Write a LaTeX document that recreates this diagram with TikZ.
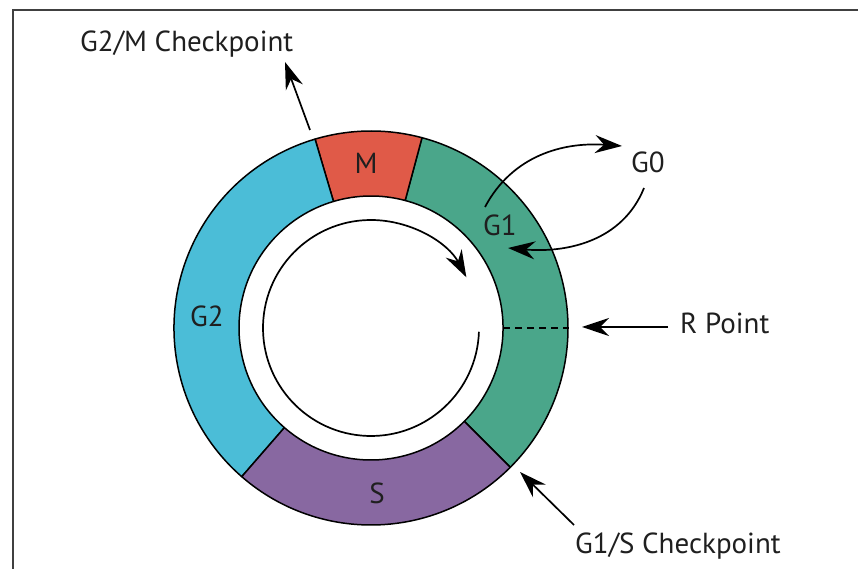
\documentclass[tikz,border=0pt]{standalone}
\usepackage{fontspec}
\setmainfont{PT Sans}
\usetikzlibrary{arrows.meta}
\definecolor{cGtwo}{RGB}{75,189,215}
\definecolor{cM}{RGB}{224,90,72}
\definecolor{cGone}{RGB}{74,166,138}
\definecolor{cS}{RGB}{136,104,161}
\begin{document}
\begin{tikzpicture}[x=1pt,y=1pt,
  seg/.style={draw=black, line width=1.5pt, line join=round},
  lbl/.style={font=\fontsize{29}{34}\selectfont, inner sep=0pt, text=black!88},
  arr/.style={line width=1.7pt, -{Stealth[length=27pt,width=18pt,inset=9pt]}},
]
\useasboundingbox (0,0) rectangle (858,569);
\draw[line width=1.6pt, draw=black!75] (13,0) -- (13,559) -- (858,559);
\coordinate (C) at (371,241);
\def\ringR{197}
\def\ringr{132}
% G1
\filldraw[seg, fill=cGone] ([shift={(-45:\ringR)}]C) arc[start angle=-45, end angle=75, radius=\ringR]
  -- ([shift={(75:\ringr)}]C) arc[start angle=75, end angle=-45, radius=\ringr] -- cycle;
% M
\filldraw[seg, fill=cM] ([shift={(75:\ringR)}]C) arc[start angle=75, end angle=106.5, radius=\ringR]
  -- ([shift={(106.5:\ringr)}]C) arc[start angle=106.5, end angle=75, radius=\ringr] -- cycle;
% G2
\filldraw[seg, fill=cGtwo] ([shift={(106.5:\ringR)}]C) arc[start angle=106.5, end angle=229, radius=\ringR]
  -- ([shift={(229:\ringr)}]C) arc[start angle=229, end angle=106.5, radius=\ringr] -- cycle;
% S
\filldraw[seg, fill=cS] ([shift={(229:\ringR)}]C) arc[start angle=229, end angle=315, radius=\ringR]
  -- ([shift={(315:\ringr)}]C) arc[start angle=315, end angle=229, radius=\ringr] -- cycle;

% labels in ring
\node[lbl, anchor=base] (M) at (366,395) {M};
\node[lbl, anchor=base] (G1) at (500,333) {G1};
\node[lbl, anchor=base] (G2) at (207,242) {G2};
\node[lbl, anchor=base] (S) at (377,65) {S};

% inner cycle arrow
\coordinate (cycstart) at ([shift={(-2:108)}]C);
\draw[arr] (cycstart) arc[start angle=-2, end angle=-332, radius=108];

% R point
\coordinate (Rin) at ([shift={(0:\ringr)}]C);
\coordinate (Rout) at ([shift={(0:\ringR)}]C);
\draw[line width=1.4pt, dash pattern=on 7pt off 5pt] (Rin) -- (Rout);
\node[lbl, anchor=base west] (RP) at (680,235) {R Point};
\coordinate (rptip) at (582,242);
\draw[arr] ([xshift=-12pt,yshift=7pt]RP.base west) -- (rptip);

% G1/S checkpoint
\node[lbl, anchor=base west] (GS) at (575,15) {G1/S Checkpoint};
\coordinate (gstail) at (574,44);
\coordinate (gstip) at (520,97);
\draw[arr] (gstail) -- (gstip);

% G2/M checkpoint
\node[lbl, anchor=base west] (GM) at (80,517) {G2/M Checkpoint};
\coordinate (gmtail) at (310,439);
\coordinate (gmtip) at (285,507);
\draw[arr] (gmtail) -- (gmtip);

% G0
\node[lbl, anchor=base] (G0) at (648,396) {G0};
\coordinate (gzout) at (485,362);
\coordinate (gzin) at (622,423);
\draw[arr] (gzout) to[out=62, in=176] (gzin);
\coordinate (gzback) at (644,381);
\coordinate (gzret) at (508,321);
\draw[arr] (gzback) to[out=-112, in=-5] (gzret);
\end{tikzpicture}
\end{document}
